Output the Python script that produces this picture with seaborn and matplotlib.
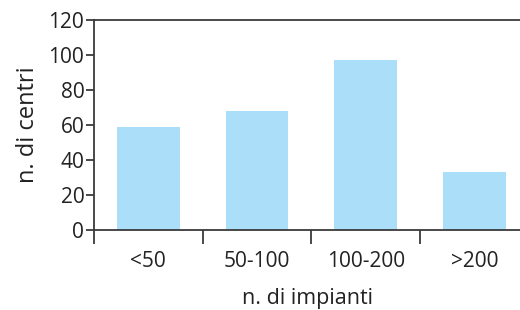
import matplotlib
matplotlib.use("Agg")
import matplotlib.pyplot as plt
import seaborn as sns
import pandas as pd
from matplotlib.ticker import FixedLocator

categories = ["<50", "50-100", "100-200", ">200"]
values = [59, 68, 97, 33]
y_ticks = [0, 20, 40, 60, 80, 100, 120]

sns.set_theme(style="white")
plt.rcParams['font.family'] = ['Open Sans', 'DejaVu Sans']

df = pd.DataFrame({"cat": categories, "val": values})

fig = plt.figure(figsize=(5.2, 3.1), dpi=100)
ax = fig.add_axes([94/520, 1 - 230/310, 1 - 94/520, 210/310])
sns.barplot(data=df, x="cat", y="val", color="#abdff9", saturation=1,
            width=0.574, ax=ax, edgecolor="none", linewidth=0)
ax.set_xlim(-0.5, 3.42)
ax.set_ylim(0, 120)
ax.set_yticks(y_ticks)

spine_c = "#3a3a3a"
for s in ["left", "bottom", "top"]:
    ax.spines[s].set_visible(True)
    ax.spines[s].set_color(spine_c)
    ax.spines[s].set_linewidth(1.3)
ax.spines["right"].set_visible(False)

ax.tick_params(axis="y", which="major", length=6, width=1.3, color=spine_c,
               labelsize=15, labelcolor="#222222", pad=1, left=True, direction="out")
ax.tick_params(axis="x", which="major", length=0, labelsize=15,
               labelcolor="#222222", pad=15)
ax.xaxis.set_minor_locator(FixedLocator([-0.5, 0.5, 1.5, 2.5]))
ax.tick_params(axis="x", which="minor", length=10, width=1.3, color=spine_c,
               bottom=True, direction="out")

ax.set_xlabel("n. di impianti", fontsize=15.5, color="#222222", labelpad=11.5)
ax.set_ylabel("n. di centri", fontsize=17, color="#222222", labelpad=6)

fig.savefig("out.png", dpi=100)
